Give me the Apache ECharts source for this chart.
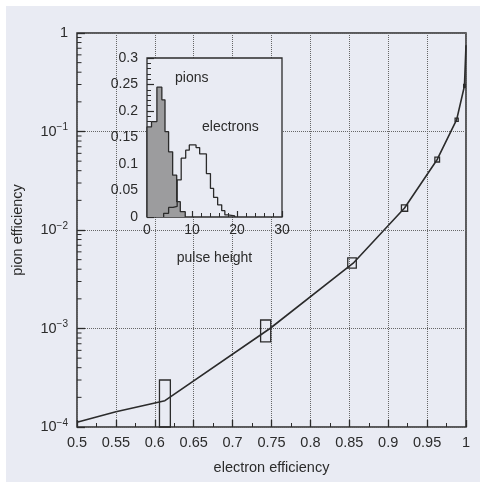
<!DOCTYPE html>
<html>
<head>
<meta charset="utf-8">
<script src="https://cdn.jsdelivr.net/npm/echarts@6/dist/echarts.min.js"></script>
<style>
  html, body { margin: 0; padding: 0; background: #fff; }
  #chart { width: 480px; height: 482px; background: #e9ebf3; box-shadow: inset 6px 6px 0 0 #fff; }
</style>
</head>
<body>
<div id="chart"></div>
<script>
// main curve: pion efficiency vs electron efficiency
const electronEff = [0.5, 0.55, 0.613, 0.748, 0.855, 0.921, 0.963, 0.988, 0.998, 1.0];
const pionEff = [1.12e-4, 1.43e-4, 1.85e-4, 1.0e-3, 4.6e-3, 1.67e-2, 5.2e-2, 0.132, 0.29, 0.75];

// error boxes on the curve
const boxX0 = [0.606, 0.736, 0.848, 0.917, 0.960, 0.986, 0.997];
const boxX1 = [0.620, 0.749, 0.859, 0.925, 0.966, 0.990, 0.999];
const boxY0 = [1.0e-4, 7.3e-4, 4.1e-3, 1.55e-2, 4.9e-2, 0.127, 0.28];
const boxY1 = [3.0e-4, 1.22e-3, 5.2e-3, 1.8e-2, 5.5e-2, 0.137, 0.30];

// inset: pulse height distributions
const pionEdges = [0, 1.0, 2.2, 3.3, 4.0, 4.8, 5.7, 6.6, 7.4, 8.5];
const pionCounts = [0.17, 0.18, 0.245, 0.221, 0.161, 0.123, 0.079, 0.029, 0.01];
const electronEdges = [3.7, 4.8, 5.8, 6.7, 7.6, 8.6, 9.4, 10.9, 11.7, 13.2, 14.1, 14.8, 15.7, 16.6, 17.3, 18.0, 19.5];
const electronCounts = [0.007, 0.018, 0.02, 0.07, 0.111, 0.126, 0.136, 0.131, 0.119, 0.082, 0.054, 0.037, 0.023, 0.012, 0.004, 0.002];

const ink = '#2b2b2b';
const paper = '#e9ebf3';
const font = 'Liberation Sans, Arial, sans-serif';

const minorLogTicks = [];
for (let d = -4; d < 0; d++) {
  for (let k = 2; k <= 9; k++) minorLogTicks.push([0.5, k * Math.pow(10, d)]);
}

function stepPoints(edges, counts) {
  const pts = [[edges[0], 0]];
  counts.forEach((c, i) => pts.push([edges[i], c]));
  pts.push([edges[edges.length - 1], 0]);
  return pts;
}

const chart = echarts.init(document.getElementById('chart'));

const option = {
  backgroundColor: 'transparent',
  animation: false,
  textStyle: { fontFamily: font },
  grid: [
    { left: 77, right: 14, top: 33, bottom: 55, show: true, borderColor: ink, borderWidth: 1.5, backgroundColor: 'transparent' },
    { left: 147, right: 198, top: 58, bottom: 265, show: true, borderColor: ink, borderWidth: 1.3, backgroundColor: paper, z: 10 }
  ],
  xAxis: [
    {
      gridIndex: 0, type: 'value', min: 0.5, max: 1, interval: 0.05,
      name: 'electron efficiency', nameLocation: 'middle', nameGap: 33,
      nameTextStyle: { color: ink, fontSize: 14.5, fontFamily: font },
      axisLine: { show: false },
      axisTick: { inside: true, length: 7, lineStyle: { color: ink, width: 1.3 } },
      minorTick: { show: true, splitNumber: 2, length: 4, lineStyle: { color: ink, width: 1 } },
      axisLabel: { color: ink, fontSize: 14.5, margin: 8, fontFamily: font, formatter: v => String(+v.toFixed(2)) },
      splitLine: { show: true, lineStyle: { color: '#666', type: 'dotted', width: 1 } }
    },
    {
      gridIndex: 1, type: 'value', min: 0, max: 30, interval: 10, z: 11,
      name: 'pulse height', nameLocation: 'middle', nameGap: 34,
      nameTextStyle: { color: ink, fontSize: 14, fontFamily: font },
      axisLine: { show: false },
      axisTick: { inside: true, length: 6, lineStyle: { color: ink, width: 1.2 } },
      minorTick: { show: true, splitNumber: 5, length: 4, lineStyle: { color: ink, width: 1 } },
      axisLabel: { color: ink, fontSize: 14, margin: 6, fontFamily: font },
      splitLine: { show: false }
    }
  ],
  yAxis: [
    {
      gridIndex: 0, type: 'log', logBase: 10, min: 1e-4, max: 1,
      name: 'pion efficiency', nameLocation: 'middle', nameGap: 52,
      nameTextStyle: { color: ink, fontSize: 14.5, fontFamily: font },
      axisLine: { show: false },
      axisTick: { inside: true, length: 8, lineStyle: { color: ink, width: 1.3 } },
      axisLabel: {
        color: ink, margin: 9, fontFamily: font,
        formatter: v => v >= 0.999 ? '{b|1}' : '{b|10}{s|−' + Math.round(-Math.log10(v)) + '}',
        rich: {
          b: { fontSize: 14.5, color: ink, fontFamily: font, lineHeight: 18 },
          s: { fontSize: 10, color: ink, fontFamily: font, verticalAlign: 'top', lineHeight: 12 }
        }
      },
      splitLine: { show: true, lineStyle: { color: '#666', type: 'dotted', width: 1 } }
    },
    {
      gridIndex: 1, type: 'value', min: 0, max: 0.3, interval: 0.05, z: 11,
      axisLine: { show: false },
      axisTick: { inside: true, length: 7, lineStyle: { color: ink, width: 1.2 } },
      minorTick: { show: true, splitNumber: 5, length: 4, lineStyle: { color: ink, width: 1 } },
      axisLabel: { color: ink, fontSize: 14, margin: 9, fontFamily: font, formatter: v => String(+v.toFixed(2)) },
      splitLine: { show: false }
    }
  ],
  series: [
    {
      type: 'custom', xAxisIndex: 0, yAxisIndex: 0, z: 3, silent: true,
      data: minorLogTicks,
      encode: { x: 0, y: 1 },
      renderItem: (params, api) => {
        const p = api.coord([api.value(0), api.value(1)]);
        return { type: 'line', shape: { x1: p[0], y1: p[1], x2: p[0] + 4.5, y2: p[1] }, style: { stroke: ink, lineWidth: 1 } };
      }
    },
    {
      type: 'line', xAxisIndex: 0, yAxisIndex: 0, z: 4,
      data: electronEff.map((x, i) => [x, pionEff[i]]),
      symbol: 'none', smooth: false,
      lineStyle: { color: ink, width: 1.6 }
    },
    {
      type: 'custom', xAxisIndex: 0, yAxisIndex: 0, z: 5,
      data: boxX0.map((x, i) => [x, boxX1[i], boxY0[i], boxY1[i]]),
      encode: { x: [0, 1], y: [2, 3] },
      renderItem: (params, api) => {
        const a = api.coord([api.value(0), api.value(3)]);
        const b = api.coord([api.value(1), api.value(2)]);
        return {
          type: 'rect',
          shape: { x: a[0], y: a[1], width: b[0] - a[0], height: b[1] - a[1] },
          style: { fill: 'none', stroke: ink, lineWidth: 1.3 }
        };
      }
    },
    {
      type: 'line', xAxisIndex: 1, yAxisIndex: 1, z: 12,
      data: stepPoints(pionEdges, pionCounts),
      step: 'end', symbol: 'none',
      lineStyle: { color: ink, width: 1.3 },
      areaStyle: { color: '#9c9c9e', opacity: 1 }
    },
    {
      type: 'line', xAxisIndex: 1, yAxisIndex: 1, z: 13,
      data: stepPoints(electronEdges, electronCounts),
      step: 'end', symbol: 'none',
      lineStyle: { color: ink, width: 1.3 }
    }
  ],
  graphic: [
    { type: 'text', z: 20, left: 175, top: 71, style: { text: 'pions', fontSize: 14, fontFamily: font, fill: ink } },
    { type: 'text', z: 20, left: 202, top: 120, style: { text: 'electrons', fontSize: 14, fontFamily: font, fill: ink } }
  ]
};

chart.setOption(option);
</script>
</body>
</html>
